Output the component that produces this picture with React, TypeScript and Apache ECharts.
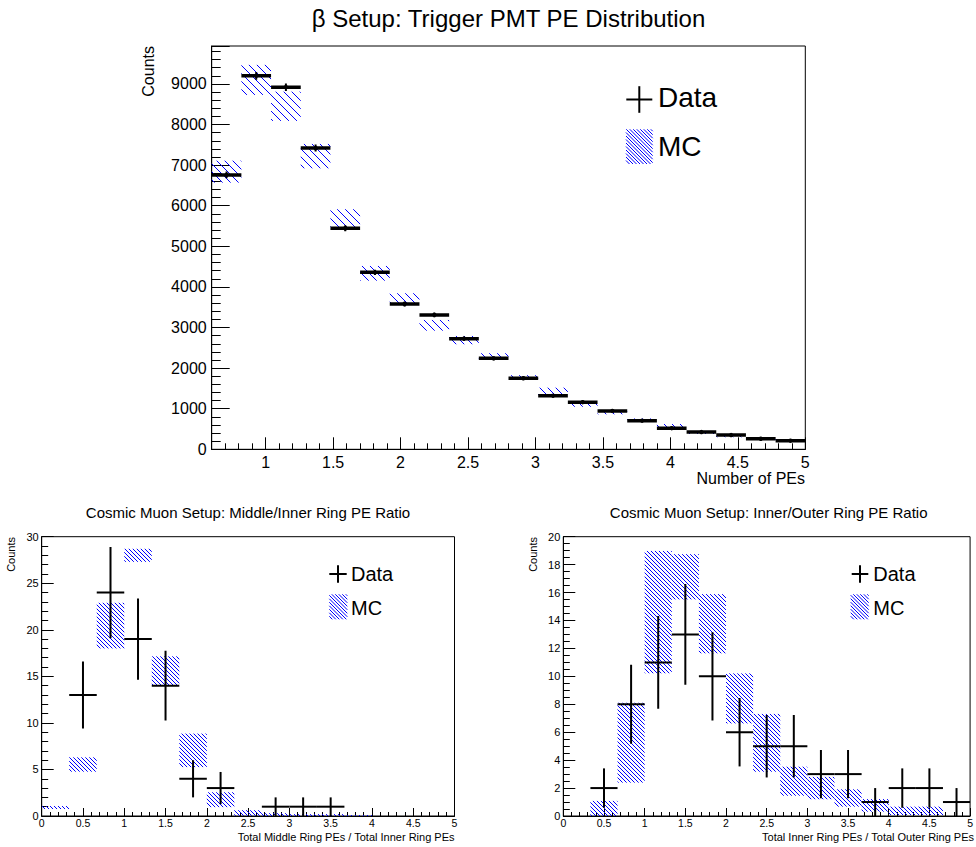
import React, { useEffect, useRef } from "react";
import * as echarts from "echarts";

const FONT = "'Liberation Sans', Arial, Helvetica, sans-serif";
const HATCH = "#0000ff";

// ---------- Top panel: beta setup, trigger PMT PE distribution ----------
const topBinEdges = [0.6, 0.82, 1.04, 1.26, 1.48, 1.7, 1.92, 2.14, 2.36, 2.58, 2.8, 3.02, 3.24, 3.46, 3.68, 3.9, 4.12, 4.34, 4.56, 4.78, 5.0];
const topData = [6760, 9200, 8920, 7420, 5445, 4360, 3580, 3310, 2725, 2240, 1750, 1320, 1160, 945, 705, 520, 425, 350, 260, 212];
const topDataErr = [82, 96, 94, 86, 74, 66, 60, 58, 52, 47, 42, 36, 34, 31, 27, 23, 21, 19, 16, 15];
const topMC = [6840, 9100, 8450, 7222, 5680, 4335, 3700, 3054, 2690, 2283, 1780, 1420, 1110, 915, 720, 570, 405, 325, 257, 215];
const topMCErr = [270, 370, 360, 300, 234, 181, 144, 132, 102, 83, 45, 98, 62, 53, 40, 53, 28, 28, 28, 28];
const topXTicks = [1, 1.5, 2, 2.5, 3, 3.5, 4, 4.5, 5];

// ---------- Bottom panels: cosmic muon setup ----------
const ratioBinEdges = [0, 0.3333, 0.6667, 1, 1.3333, 1.6667, 2, 2.3333, 2.6667, 3, 3.3333, 3.6667, 4, 4.3333, 4.6667, 5];

const midInnerData = [0, 13, 24, 19, 14, 4, 3, 0, 1, 1, 1, 0, 0, 0, 0];
const midInnerDataErr = [0, 3.6, 4.9, 4.36, 3.74, 2, 1.73, 0, 1, 1, 1, 0, 0, 0, 0];
const midInnerMC = [0.91, 5.53, 20.45, 28.0, 15.6, 7.05, 1.75, 0.32, 0.15, 0.1, 0.1, 0.05, 0, 0, 0];
const midInnerMCErr = [0.16, 0.77, 2.45, 0.7, 1.55, 1.8, 0.8, 0.3, 0.15, 0.1, 0.1, 0.05, 0, 0, 0];

const innerOuterData = [0, 2, 8, 11, 13, 10, 6, 5, 5, 3, 3, 1, 2, 2, 1];
const innerOuterDataErr = [0, 1.41, 2.83, 3.32, 3.61, 3.16, 2.45, 2.24, 2.24, 1.73, 1.73, 1, 1.41, 1.41, 1];
const innerOuterMC = [0, 0.54, 5.25, 14.6, 17.13, 13.77, 8.42, 5.24, 2.49, 2.0, 1.29, 0.76, 0.37, 0.37, 0];
const innerOuterMCErr = [0, 0.54, 2.86, 4.38, 1.62, 2.12, 1.79, 2.07, 1.04, 0.8, 0.62, 0.45, 0.3, 0.3, 0];

function hatchLines(x0: number, y0: number, x1: number, y1: number, d: number) {
  const out: number[][] = [];
  const top = Math.min(y0, y1);
  const bot = Math.max(y0, y1);
  const left = Math.min(x0, x1);
  const right = Math.max(x0, x1);
  const kStart = Math.ceil((top - right) / d);
  const kEnd = Math.floor((bot - left) / d);
  for (let k = kStart; k <= kEnd; k++) {
    const c = k * d;
    const xs = Math.max(left, top - c);
    const xe = Math.min(right, bot - c);
    if (xe - xs > 0.4) out.push([xs, xs + c, xe, xe + c]);
  }
  return out;
}

function lineEls(lines: number[][], stroke: string, lw: number) {
  return lines.map((l) => ({
    type: "line",
    shape: { x1: l[0], y1: l[1], x2: l[2], y2: l[3] },
    style: { stroke, lineWidth: lw },
  }));
}

function mcItems(edges: number[], vals: number[], errs: number[]) {
  const out: number[][] = [];
  for (let i = 0; i < vals.length; i++) {
    if (errs[i] > 0) out.push([edges[i], edges[i + 1], vals[i], errs[i]]);
  }
  return out;
}
function dataItems(edges: number[], vals: number[], errs: number[]) {
  const out: number[][] = [];
  for (let i = 0; i < vals.length; i++) {
    if (vals[i] > 0) out.push([edges[i], edges[i + 1], vals[i], errs[i]]);
  }
  return out;
}

function mcSeries(xi: number, yi: number, data: number[][], spacing: number) {
  return {
    type: "custom",
    xAxisIndex: xi,
    yAxisIndex: yi,
    data,
    clip: true,
    renderItem: (params: any, api: any) => {
      const lo = api.value(0), hi = api.value(1), c = api.value(2), e = api.value(3);
      const p0 = api.coord([lo, c + e]);
      const p1 = api.coord([hi, Math.max(0, c - e)]);
      const lines = hatchLines(p0[0], p0[1], p1[0], p1[1], spacing);
      return { type: "group", children: lineEls(lines, HATCH, 1) };
    },
  };
}

function dataSeries(xi: number, yi: number, data: number[][], hw: number, vw: number, dot: boolean) {
  return {
    type: "custom",
    xAxisIndex: xi,
    yAxisIndex: yi,
    data,
    clip: true,
    z: 5,
    renderItem: (params: any, api: any) => {
      const lo = api.value(0), hi = api.value(1), v = api.value(2), e = api.value(3);
      const mid = (lo + hi) / 2;
      const a = api.coord([lo, v]);
      const b = api.coord([hi, v]);
      const t = api.coord([mid, v + e]);
      const u = api.coord([mid, v - e]);
      const children: any[] = [
        { type: "line", shape: { x1: a[0], y1: a[1], x2: b[0], y2: b[1] }, style: { stroke: "#000", lineWidth: hw } },
        { type: "line", shape: { x1: t[0], y1: t[1], x2: u[0], y2: u[1] }, style: { stroke: "#000", lineWidth: vw } },
      ];
      if (dot) {
        const m = api.coord([mid, v]);
        children.push({ type: "circle", shape: { cx: m[0], cy: m[1], r: 2.2 }, style: { fill: "#000" } });
      }
      return { type: "group", children };
    },
  };
}

function txt(text: string, x: number, y: number, size: number, align: string, rot = 0) {
  return {
    type: "text",
    x,
    y,
    rotation: rot,
    style: { text, fill: "#000", font: `${size}px ${FONT}`, align, verticalAlign: "middle" },
  };
}

function legend(cx: number, cy: number, arm: number, vArm: number, textX: number, dataY: number,
  box: number[], mcY: number, size: number, spacing: number) {
  const els: any[] = [
    { type: "line", shape: { x1: cx - arm, y1: cy, x2: cx + arm, y2: cy }, style: { stroke: "#000", lineWidth: 2 } },
    { type: "line", shape: { x1: cx, y1: cy - vArm, x2: cx, y2: cy + vArm }, style: { stroke: "#000", lineWidth: 2 } },
    txt("Data", textX, dataY, size, "left"),
    txt("MC", textX, mcY, size, "left"),
  ];
  const lines = hatchLines(box[0], box[1], box[2], box[3], spacing);
  return els.concat(lineEls(lines, HATCH, 1));
}

const numFmt = (v: number) => String(Math.round(v * 1000) / 1000);

export default function App() {
  const ref = useRef<HTMLDivElement>(null);
  useEffect(() => {
    if (!ref.current) return;
    const chart = echarts.init(ref.current, null, { renderer: "svg" });
    const black = { color: "#000", width: 1 };
    const topGrid = { left: 211.7, top: 46, width: 593.6, height: 403.3, show: true, borderColor: "#000", borderWidth: 1, backgroundColor: "transparent" };
    const blGrid = { left: 41.7, top: 536.7, width: 412.8, height: 279.3, show: true, borderColor: "#000", borderWidth: 1 };
    const brGrid = { left: 563.3, top: 536.7, width: 411, height: 279.3, show: true, borderColor: "#000", borderWidth: 1 };

    const smallX = (gi: number) => ({
      type: "value", gridIndex: gi, min: 0, max: 5, interval: 0.5, position: "bottom",
      axisLine: { show: true, lineStyle: black },
      axisTick: { show: true, inside: true, length: 8, lineStyle: black },
      minorTick: { show: true, splitNumber: 5, length: 4, lineStyle: black },
      axisLabel: { show: true, fontSize: 10.5, fontFamily: FONT, color: "#000", margin: 1.5, formatter: numFmt },
      splitLine: { show: false },
    });
    const smallY = (gi: number, max: number, interval: number, split: number) => ({
      type: "value", gridIndex: gi, min: 0, max, interval, position: "left",
      axisLine: { show: true, lineStyle: black },
      axisTick: { show: true, inside: true, length: 12, lineStyle: black },
      minorTick: { show: true, splitNumber: split, length: 6.5, lineStyle: black },
      axisLabel: { show: true, fontSize: 11, fontFamily: FONT, color: "#000", margin: 3, formatter: numFmt },
      splitLine: { show: false },
    });

    const option: any = {
      animation: false,
      backgroundColor: "#fff",
      grid: [topGrid, blGrid, brGrid],
      xAxis: [
        {
          type: "value", gridIndex: 0, min: 0.6, max: 5, position: "bottom",
          axisLine: { show: true, lineStyle: black },
          axisTick: { show: true, inside: true, length: 12, lineStyle: black, customValues: topXTicks },
          axisLabel: { show: true, fontSize: 16, fontFamily: FONT, color: "#000", margin: 5, customValues: topXTicks, formatter: numFmt },
          splitLine: { show: false },
        },
        {
          type: "value", gridIndex: 0, min: 0.6, max: 5, interval: 0.1, position: "bottom",
          axisLine: { show: false },
          axisTick: { show: true, inside: true, length: 6, lineStyle: black },
          axisLabel: { show: false },
          splitLine: { show: false },
        },
        smallX(1),
        smallX(2),
      ],
      yAxis: [
        {
          type: "value", gridIndex: 0, min: 0, max: 9935, interval: 1000, position: "left",
          axisLine: { show: true, lineStyle: black },
          axisTick: { show: true, inside: true, length: 18, lineStyle: black },
          minorTick: { show: true, splitNumber: 5, length: 9, lineStyle: black },
          axisLabel: { show: true, fontSize: 16, fontFamily: FONT, color: "#000", margin: 5, showMaxLabel: false, formatter: numFmt },
          splitLine: { show: false },
        },
        smallY(1, 30, 5, 5),
        smallY(2, 20, 2, 4),
      ],
      series: [
        mcSeries(0, 0, mcItems(topBinEdges, topMC, topMCErr), 8),
        dataSeries(0, 0, dataItems(topBinEdges, topData, topDataErr), 3.5, 2, true),
        mcSeries(2, 1, mcItems(ratioBinEdges, midInnerMC, midInnerMCErr), 4),
        dataSeries(2, 1, dataItems(ratioBinEdges, midInnerData, midInnerDataErr), 2, 2, false),
        mcSeries(3, 2, mcItems(ratioBinEdges, innerOuterMC, innerOuterMCErr), 4),
        dataSeries(3, 2, dataItems(ratioBinEdges, innerOuterData, innerOuterDataErr), 2, 2, false),
      ],
      graphic: [
        txt("\u03b2 Setup: Trigger PMT PE Distribution", 508.5, 18, 24, "center"),
        txt("Counts", 148, 46, 16, "right", Math.PI / 2),
        txt("Number of PEs", 805, 478.5, 16, "right"),
        ...legend(639.3, 99.5, 13, 13.3, 658, 97.5, [626, 129.3, 652.7, 164], 146.5, 28, 3.5),

        txt("Cosmic Muon Setup: Middle/Inner Ring PE Ratio", 248, 512.8, 15, "center"),
        txt("Counts", 11, 537, 11, "right", Math.PI / 2),
        txt("Total Middle Ring PEs / Total Inner Ring PEs", 454.5, 836.5, 11, "right"),
        ...legend(338, 574, 8.7, 8.8, 351, 573.5, [329.3, 594.3, 347.3, 619.3], 607.5, 20, 3.5),

        txt("Cosmic Muon Setup: Inner/Outer Ring PE Ratio", 768.7, 512.8, 15, "center"),
        txt("Counts", 533, 537, 11, "right", Math.PI / 2),
        txt("Total Inner Ring PEs / Total Outer Ring PEs", 974, 836.5, 11, "right"),
        ...legend(860, 574, 8.3, 8.8, 873.3, 573.5, [850.7, 594.3, 868.7, 619.3], 607.5, 20, 3.5),
      ],
    };
    chart.setOption(option);
    return () => chart.dispose();
  }, []);
  return <div ref={ref} style={{ position: "absolute", left: 0, top: 0, width: 976, height: 847 }} />;
}
